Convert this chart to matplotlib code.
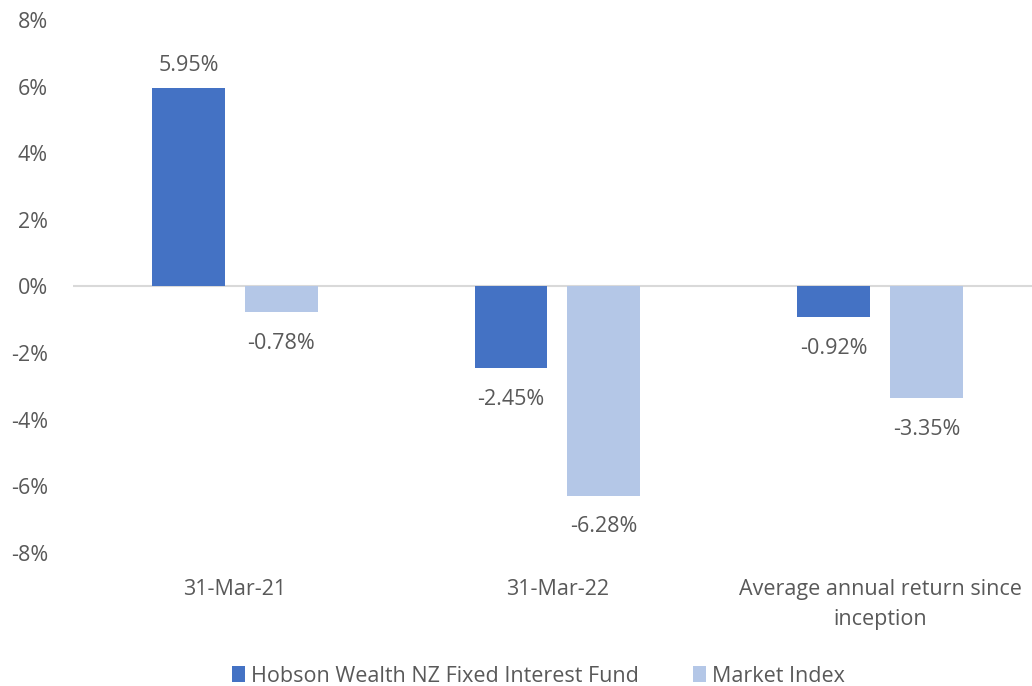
import numpy as np
import matplotlib.pyplot as plt

categories = ['31-Mar-21', '31-Mar-22', 'Average annual return since\ninception']
fund = [5.95, -2.45, -0.92]
index = [-0.78, -6.28, -3.35]
series_names = ['Hobson Wealth NZ Fixed Interest Fund', 'Market Index']
colors = ['#4472C4', '#B4C7E7']

plt.rcParams['font.family'] = ['Open Sans', 'DejaVu Sans']
txt = '#595959'
fs = 15.5

fig = plt.figure(figsize=(10.32, 6.86), dpi=100)
ax = fig.add_axes([0.0707, 0.194, 0.9293, 0.777])

x = np.arange(len(categories))
w = 0.226
off = (w + 0.062) / 2
b1 = ax.bar(x - off, fund, w, color=colors[0], label=series_names[0])
b2 = ax.bar(x + off, index, w, color=colors[1], label=series_names[1])

for bars, vals in [(b1, fund), (b2, index)]:
    for r, v in zip(bars, vals):
        ax.annotate(f'{v:.2f}%', (r.get_x() + r.get_width() / 2, v),
                    xytext=(0, 9 if v >= 0 else -15), textcoords='offset points',
                    ha='center', va='bottom' if v >= 0 else 'top',
                    fontsize=fs, color=txt)

ax.set_ylim(-8, 8)
ax.set_xlim(-0.502, 2.471)
ax.set_yticks(range(-8, 9, 2))
ax.set_yticklabels([f'{t}%' for t in range(-8, 9, 2)])
ax.set_xticks(x)
ax.set_xticklabels(categories, linespacing=1.55)
ax.axhline(0, color='#D9D9D9', lw=1.5, zorder=0)
for s in ax.spines.values():
    s.set_visible(False)
ax.tick_params(length=0, labelsize=fs, colors=txt)
ax.tick_params(axis='x', pad=19)
ax.tick_params(axis='y', pad=18)

fig.legend(loc='lower center', bbox_to_anchor=(0.522, -0.029), ncol=2, frameon=False,
           fontsize=fs, labelcolor=txt, handlelength=0.6, handleheight=0.7,
           columnspacing=2.5, handletextpad=0.3)

fig.savefig('out.png', dpi=100)
